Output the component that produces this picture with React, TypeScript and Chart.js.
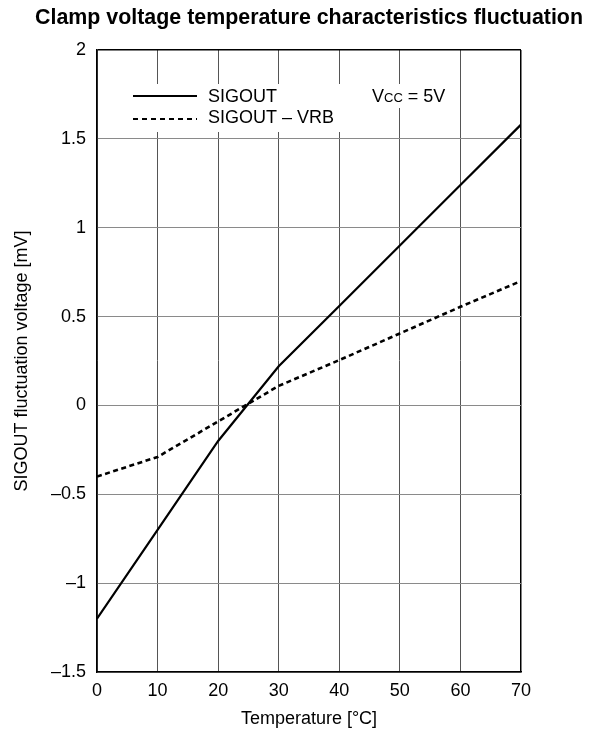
import { useEffect, useRef } from "react";
import { Chart, registerables } from "chart.js";

Chart.register(...registerables);

const temperatures = [0, 10, 20, 30, 40, 50, 60, 70];
const sigout = [-1.2, -0.7, -0.2, 0.22, 0.56, 0.9, 1.24, 1.58];
const sigoutMinusVrb = [-0.4, -0.29, -0.09, 0.11, 0.255, 0.405, 0.555, 0.7];
const seriesLabels = ["SIGOUT", "SIGOUT – VRB"];
const xTicks = [0, 10, 20, 30, 40, 50, 60, 70];
const yTicks = [-1.5, -1, -0.5, 0, 0.5, 1, 1.5, 2];
const yTickLabels = ["–1.5", "–1", "–0.5", "0", "0.5", "1", "1.5", "2"];
const chartTitle = "Clamp voltage temperature characteristics fluctuation";
const xTitle = "Temperature [°C]";
const yTitle = "SIGOUT fluctuation voltage [mV]";
const conditionParts = ["V", "CC", " = 5V"];

const FONT = '"Liberation Sans", Arial, sans-serif';

const insideLegend = {
  id: "insideLegend",
  beforeDatasetsDraw(chart: any) {
    const { ctx, chartArea } = chart;
    const left = chartArea.left;
    const top = chartArea.top;
    ctx.save();
    ctx.fillStyle = "#ffffff";
    ctx.fillRect(left + 30, top + 34, 218, 48);
    ctx.fillRect(left + 271, top + 34, 86, 24);
    chart.data.datasets.forEach((ds: any, i: number) => {
      const y = top + 46 + i * 23;
      ctx.strokeStyle = ds.borderColor;
      ctx.lineWidth = 2;
      ctx.setLineDash(ds.borderDash ? [5, 4] : []);
      ctx.beginPath();
      ctx.moveTo(left + 36, y);
      ctx.lineTo(left + 100, y);
      ctx.stroke();
      ctx.setLineDash([]);
      ctx.fillStyle = "#000";
      ctx.font = `18px ${FONT}`;
      ctx.textBaseline = "alphabetic";
      ctx.textAlign = "left";
      ctx.fillText(ds.label, left + 111, top + 51.5 + i * 21.5);
    });
    let x = left + 275;
    const by = top + 51.5;
    ctx.fillStyle = "#000";
    ctx.textBaseline = "alphabetic";
    ctx.font = `18px ${FONT}`;
    ctx.fillText(conditionParts[0], x, by);
    x += ctx.measureText(conditionParts[0]).width;
    ctx.font = `13px ${FONT}`;
    ctx.fillText(conditionParts[1], x, by);
    x += ctx.measureText(conditionParts[1]).width;
    ctx.font = `18px ${FONT}`;
    ctx.fillText(conditionParts[2], x, by);
    ctx.restore();
  },
  afterDraw(chart: any) {
    const { ctx, chartArea } = chart;
    ctx.save();
    ctx.fillStyle = "#000";
    ctx.font = `bold 21.4px ${FONT}`;
    ctx.textAlign = "center";
    ctx.textBaseline = "alphabetic";
    ctx.fillText(chartTitle, (chartArea.left + chartArea.right) / 2, chartArea.top - 26);
    ctx.restore();
  },
};

export default function App() {
  const ref = useRef<HTMLCanvasElement | null>(null);

  useEffect(() => {
    if (!ref.current) return;
    const chart = new Chart(ref.current, {
      type: "line",
      data: {
        datasets: [
          {
            label: seriesLabels[0],
            data: temperatures.map((t, i) => ({ x: t, y: sigout[i] })),
            borderColor: "#000000",
            borderWidth: 2.2,
            pointRadius: 0,
            tension: 0,
            fill: false,
          },
          {
            label: seriesLabels[1],
            data: temperatures.map((t, i) => ({ x: t, y: sigoutMinusVrb[i] })),
            borderColor: "#000000",
            borderWidth: 2.6,
            borderDash: [5, 3.5],
            pointRadius: 0,
            tension: 0,
            fill: false,
          },
        ],
      },
      options: {
        animation: false,
        responsive: false,
        maintainAspectRatio: false,
        devicePixelRatio: 1,
        layout: { padding: { left: 0, right: 71, top: 50, bottom: 0 } },
        plugins: {
          legend: { display: false },
          tooltip: { enabled: false },
          title: { display: false },
        },
        scales: {
          x: {
            type: "linear",
            min: 0,
            max: 70,
            afterBuildTicks: (scale: any) => {
              scale.ticks = xTicks.map((v) => ({ value: v }));
            },
            afterFit: (scale: any) => {
              scale.height = 62;
            },
            ticks: {
              color: "#000",
              font: { family: FONT, size: 18 },
              padding: 8,
              maxRotation: 0,
              autoSkip: false,
              callback: (v: any) => String(v),
            },
            grid: {
              drawTicks: false,
              color: (c: any) => (c.tick && c.tick.value === 70 ? "#000" : "#555"),
              lineWidth: (c: any) => (c.tick && c.tick.value === 70 ? 1.5 : 1),
            },
            border: { color: "#000", width: 1.5 },
            title: {
              display: true,
              text: xTitle,
              color: "#000",
              font: { family: FONT, size: 18 },
              padding: { top: 0, bottom: 4 },
            },
          },
          y: {
            type: "linear",
            min: -1.5,
            max: 2,
            afterBuildTicks: (scale: any) => {
              scale.ticks = yTicks.map((v) => ({ value: v }));
            },
            afterFit: (scale: any) => {
              scale.width = 97;
            },
            ticks: {
              color: "#000",
              font: { family: FONT, size: 18 },
              padding: 11,
              autoSkip: false,
              callback: (v: any) => {
                const idx = yTicks.indexOf(Number(v));
                return idx >= 0 ? yTickLabels[idx] : "";
              },
            },
            grid: {
              drawTicks: false,
              color: (c: any) => (c.tick && c.tick.value === 2 ? "#000" : "#8a8a8a"),
              lineWidth: (c: any) => (c.tick && c.tick.value === 2 ? 1.5 : 1),
            },
            border: { color: "#000", width: 1.5 },
            title: {
              display: true,
              text: yTitle,
              color: "#000",
              font: { family: FONT, size: 18 },
              padding: { top: 11, bottom: 0 },
            },
          },
        },
      },
      plugins: [insideLegend],
    });
    return () => chart.destroy();
  }, []);

  return (
    <div style={{ position: "absolute", left: 0, top: 0, width: 592, height: 734, background: "#fff" }}>
      <canvas ref={ref} width={592} height={734} style={{ width: 592, height: 734 }} />
    </div>
  );
}
